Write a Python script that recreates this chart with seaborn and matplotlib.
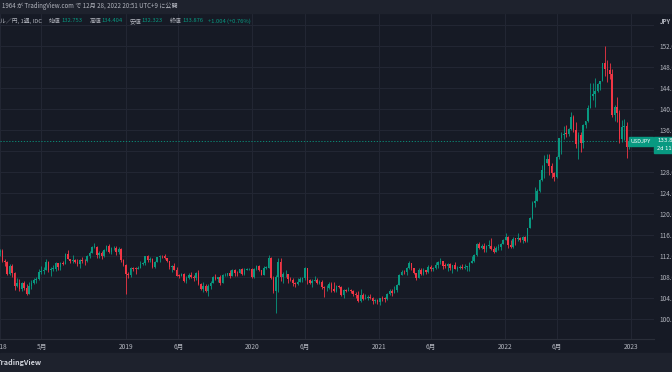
import pandas as pd
import numpy as np
import matplotlib
matplotlib.use("Agg")
import matplotlib.pyplot as plt
import matplotlib.dates as mdates
from matplotlib.patches import Rectangle
import seaborn as sns

# USD/JPY weekly candles (week start dates from 2017-12-25)
first_open = 113.30
last_open = 132.753

closes = [
    112.69,
    # 2018
    113.04, 111.05, 110.78, 108.58, 110.16, 108.79, 106.30, 106.89, 105.74, 106.82,
    105.98, 104.73, 106.28, 106.94, 107.35, 107.63, 109.04, 109.12, 109.38, 110.78,
    109.42, 109.53, 109.54, 110.65, 109.97, 110.75, 110.46, 112.37, 111.41, 111.05,
    111.25, 110.87, 110.49, 111.24, 111.04, 110.98, 112.04, 112.59, 113.70, 113.73,
    112.21, 112.55, 111.91, 113.20, 113.83, 112.83, 113.44, 113.57, 112.67, 113.38,
    111.22, 110.28,
    # 2019
    108.50, 108.47, 109.77, 109.55, 109.50, 109.73, 110.47, 110.69, 111.93, 111.17,
    111.47, 109.93, 110.86, 111.72, 112.02, 111.91, 111.60, 111.10, 109.95, 110.08,
    109.28, 108.26, 108.19, 108.54, 107.31, 107.85, 108.47, 107.91, 107.72, 108.68,
    106.58, 105.68, 106.36, 105.38, 106.26, 106.91, 108.09, 107.56, 107.92, 106.93,
    108.29, 108.45, 108.67, 108.20, 109.26, 108.77, 108.67, 109.49, 108.58, 109.38,
    109.43, 109.46,
    # 2020
    108.09, 109.49, 110.15, 109.28, 108.35, 109.76, 109.77, 111.60, 107.89, 105.38,
    107.91, 110.82, 107.93, 108.48, 108.49, 107.54, 107.48, 106.91, 106.65, 107.12,
    107.63, 107.77, 109.62, 107.37, 106.85, 107.25, 107.51, 106.93, 106.98, 106.13,
    105.83, 105.92, 106.60, 105.80, 105.37, 106.24, 106.15, 104.56, 105.58, 105.31,
    105.60, 105.40, 104.72, 104.66, 103.36, 104.62, 103.85, 104.08, 104.18, 104.03,
    103.34, 103.60,
    # 2021
    103.24, 103.94, 103.87, 103.79, 104.68, 105.38, 104.94, 105.45, 106.56, 108.31,
    109.02, 108.88, 109.66, 110.68, 109.67, 108.77, 107.88, 109.30, 108.59, 109.37,
    108.96, 109.84, 109.49, 109.67, 110.21, 110.77, 111.05, 110.14, 110.07, 110.55,
    109.70, 110.24, 109.60, 109.78, 109.84, 109.71, 109.93, 109.96, 110.73, 111.05,
    112.24, 114.22, 113.50, 113.95, 113.40, 113.87, 114.00, 113.38, 112.80, 113.44,
    113.70, 114.38,
    # 2022
    115.09, 115.56, 114.19, 113.67, 115.26, 115.22, 115.42, 114.99, 115.56, 114.80,
    117.29, 119.17, 122.03, 122.50, 124.35, 126.41, 128.46, 129.79, 130.56, 129.19,
    127.87, 127.11, 130.86, 134.40, 135.00, 135.22, 135.20, 136.11, 138.55, 136.04,
    133.26, 135.00, 133.47, 136.88, 137.67, 140.20, 142.55, 142.91, 143.37, 144.73,
    145.29, 148.69, 147.64, 147.47, 146.61, 138.78, 140.37, 139.18, 134.32, 136.59,
    136.67, 132.84, 133.876,
]

highs = [
    113.38,
    # 2018
    113.38, 113.40, 111.48, 110.98, 110.48, 110.48, 108.89, 107.90, 107.67, 107.05,
    107.29, 106.62, 107.00, 107.49, 107.78, 107.91, 109.57, 110.05, 109.99, 111.40,
    111.08, 109.82, 110.27, 110.91, 110.75, 110.90, 111.14, 112.63, 113.18, 111.47,
    112.15, 111.50, 111.44, 111.48, 111.83, 111.48, 112.16, 112.88, 113.86, 114.55,
    113.98, 112.88, 112.90, 113.39, 114.08, 114.20, 113.71, 113.95, 113.83, 113.71,
    113.58, 111.41,
    # 2019
    110.50, 108.99, 109.89, 109.99, 109.93, 110.17, 111.13, 110.95, 112.08, 112.14,
    111.90, 111.69, 111.03, 111.83, 112.13, 112.17, 112.40, 111.70, 111.08, 110.32,
    110.68, 109.92, 108.50, 108.80, 108.80, 108.16, 108.69, 108.99, 108.31, 108.94,
    109.32, 106.82, 106.97, 106.73, 106.69, 107.23, 108.26, 108.48, 108.07, 108.47,
    108.63, 108.74, 108.85, 109.29, 109.49, 109.48, 109.22, 109.61, 109.72, 109.70,
    109.69, 109.67,
    # 2020
    109.72, 109.69, 110.29, 110.20, 109.33, 110.02, 110.14, 112.22, 111.72, 108.18,
    108.40, 111.69, 111.71, 108.93, 109.39, 108.09, 107.99, 107.78, 107.03, 107.76,
    107.98, 108.08, 109.85, 109.70, 107.63, 107.63, 108.16, 107.79, 107.44, 107.41,
    106.20, 106.45, 107.05, 106.98, 107.05, 106.55, 106.50, 106.22, 105.80, 105.80,
    106.11, 105.75, 105.53, 105.05, 105.35, 105.65, 104.88, 104.75, 104.50, 104.75,
    104.18, 103.90,
    # 2021
    103.80, 104.09, 104.40, 104.10, 104.94, 105.77, 105.67, 106.22, 106.69, 108.64,
    109.24, 109.36, 109.85, 110.97, 110.52, 109.78, 108.83, 109.70, 109.69, 109.79,
    109.32, 110.20, 110.33, 109.85, 110.82, 111.12, 111.66, 111.13, 110.70, 110.59,
    110.59, 110.37, 110.80, 110.07, 110.26, 110.42, 110.45, 110.06, 110.80, 112.08,
    112.40, 114.46, 114.70, 114.30, 114.44, 114.13, 114.97, 115.52, 113.89, 113.95,
    114.25, 114.52,
    # 2022
    115.20, 116.35, 115.87, 115.06, 115.69, 115.51, 116.34, 115.69, 115.76, 115.80,
    117.35, 119.41, 122.44, 125.09, 124.68, 126.68, 129.40, 131.25, 131.35, 131.35,
    129.80, 128.08, 130.98, 134.56, 135.59, 136.71, 137.00, 136.38, 139.39, 138.88,
    137.46, 135.58, 135.58, 137.23, 137.70, 140.80, 144.99, 144.96, 145.90, 144.93,
    145.42, 148.86, 151.94, 149.28, 148.82, 147.57, 140.80, 142.25, 139.89, 137.86,
    138.18, 137.47, 134.404,
]

lows = [
    112.47,
    # 2018
    112.06, 110.92, 110.19, 108.29, 108.40, 108.05, 105.55, 106.08, 105.24, 105.35,
    105.61, 104.63, 104.72, 105.66, 106.63, 106.92, 107.49, 108.64, 108.62, 109.33,
    108.95, 108.12, 109.17, 109.19, 109.37, 109.37, 110.27, 110.39, 111.38, 110.58,
    110.76, 110.72, 110.11, 109.77, 110.68, 110.38, 110.77, 111.66, 112.48, 113.58,
    111.62, 111.62, 111.38, 111.77, 112.88, 112.52, 112.35, 113.12, 112.23, 112.40,
    110.93, 110.19,
    # 2019
    104.80, 107.75, 108.06, 109.13, 108.49, 109.55, 109.75, 110.36, 110.35, 110.78,
    110.95, 109.75, 109.70, 110.83, 110.84, 111.65, 111.38, 110.86, 109.47, 109.02,
    109.24, 108.27, 107.81, 108.12, 107.04, 106.78, 107.53, 107.80, 107.21, 107.51,
    106.50, 105.50, 105.05, 105.05, 104.45, 105.74, 106.79, 107.45, 107.13, 106.48,
    106.97, 108.28, 108.25, 107.89, 108.16, 108.25, 108.24, 108.67, 108.42, 108.43,
    109.24, 109.25,
    # 2020
    107.88, 107.77, 109.42, 109.18, 108.31, 108.36, 109.55, 109.71, 107.53, 105.01,
    101.18, 105.16, 107.25, 106.93, 107.98, 106.94, 107.30, 106.36, 106.06, 106.42,
    106.96, 107.10, 107.50, 106.58, 106.59, 106.07, 107.24, 106.63, 106.64, 105.68,
    104.19, 105.30, 105.80, 105.10, 105.20, 105.21, 105.87, 104.29, 104.00, 105.05,
    105.30, 104.95, 104.34, 104.03, 103.18, 103.19, 103.65, 103.89, 103.67, 103.80,
    102.87, 103.02,
    # 2021
    102.95, 102.59, 103.52, 103.33, 103.55, 104.61, 104.40, 104.92, 105.20, 106.48,
    108.34, 108.61, 108.41, 109.61, 109.41, 108.61, 107.48, 107.80, 108.34, 108.34,
    108.56, 108.74, 109.19, 109.19, 109.53, 109.71, 110.42, 109.53, 109.72, 109.07,
    109.36, 108.72, 109.43, 109.11, 109.46, 109.59, 109.57, 109.11, 109.11, 110.70,
    110.82, 112.07, 113.41, 113.26, 112.72, 112.73, 113.58, 113.06, 112.54, 113.14,
    113.14, 113.13,
    # 2022
    114.45, 115.00, 113.48, 113.47, 113.47, 114.15, 114.87, 114.59, 114.41, 114.66,
    114.64, 117.25, 119.13, 121.27, 122.39, 124.11, 126.27, 126.95, 129.77, 127.52,
    126.95, 126.37, 126.85, 130.40, 131.50, 134.27, 134.74, 134.77, 135.99, 135.57,
    132.50, 130.41, 131.73, 132.56, 136.36, 137.50, 140.27, 141.66, 140.35, 143.29,
    143.53, 145.26, 146.23, 145.10, 145.68, 138.47, 137.67, 137.50, 133.62, 133.63,
    134.06, 130.58, 132.323,
]

x_ticks = ["2018-01-01", "2018-05-01", "2019-01-01", "2019-06-01", "2020-01-01",
           "2020-06-01", "2021-01-01", "2021-06-01", "2022-01-01", "2022-06-01",
           "2023-01-01"]
x_labels = ["2018", "5月", "2019", "6月", "2020", "6月", "2021", "6月", "2022", "6月", "2023"]
y_ticks = list(range(100, 157, 4))
hidden_y = [132, 156]  # covered by the price tag / the JPY label

UP = "#089981"
DOWN = "#f23645"
BG = "#161a25"
PANEL = "#1e222d"
GRID = "#232734"
TEXT = "#b2b5be"

dates = pd.date_range("2017-12-25", periods=len(closes), freq="7D")
opens = [first_open] + closes[:-1]
opens[-1] = last_open
df = pd.DataFrame({"date": dates, "open": opens, "high": highs, "low": lows, "close": closes})
df["up"] = df["close"] >= df["open"]

sns.set_theme(style="dark", rc={"axes.facecolor": BG, "figure.facecolor": BG,
                                "grid.color": GRID, "axes.edgecolor": GRID})
plt.rcParams["font.family"] = ["Noto Sans CJK JP", "DejaVu Sans"]

W, H = 672, 372
fig = plt.figure(figsize=(W / 100, H / 100), dpi=100)


def fx(px):
    return px / W


def fy(py):
    return 1 - py / H


# header and footer panels
fig.patches.append(Rectangle((0, fy(13)), 1, 13 / H, transform=fig.transFigure,
                             color=PANEL, zorder=0))
fig.patches.append(Rectangle((0, 0), 1, 19 / H, transform=fig.transFigure,
                             color=PANEL, zorder=0))

ax = fig.add_axes([0, fy(339), fx(654), (339 - 13) / H])
x = mdates.date2num(df["date"])
colors = np.where(df["up"], UP, DOWN)
top = df[["open", "close"]].max(axis=1)
bot = df[["open", "close"]].min(axis=1)
ax.vlines(x, np.minimum(df["low"], bot), np.maximum(df["high"], top), colors=colors, lw=0.6, zorder=3)
ax.bar(x, np.maximum(top - bot, 0.15), bottom=bot, width=4.6, color=colors, linewidth=0, zorder=4)

ax.axhline(closes[-1], color=UP, lw=0.6, ls=(0, (1.5, 2)), zorder=2)

ax.set_xlim(mdates.date2num(pd.Timestamp("2018-01-01")), mdates.date2num(pd.Timestamp("2023-03-08")))
ax.set_ylim(96.19, 158.29)
ax.set_xticks(mdates.date2num(pd.to_datetime(x_ticks)))
ax.set_xticklabels(x_labels)
ax.set_yticks(y_ticks)
ax.set_yticklabels(["" if v in hidden_y else f"{v:.3f}" for v in y_ticks])
ax.yaxis.tick_right()
ax.tick_params(axis="y", length=0, pad=3.6, labelsize=4.6, labelcolor=TEXT)
ax.tick_params(axis="x", length=0, pad=3.0, labelsize=4.8, labelcolor=TEXT)
ax.grid(True, color=GRID, lw=0.7)
for s in ["top", "right", "left"]:
    ax.spines[s].set_visible(False)
ax.spines["bottom"].set_color("#2a2e39")
ax.spines["bottom"].set_linewidth(0.8)
ax.set_xlabel("")
ax.set_ylabel("")

# header texts
fig.text(fx(2), fy(6.5), "1964 が TradingView.com で 12月 28, 2022 20:51 UTC+9 に公開",
         color=TEXT, fontsize=4.4, va="center", ha="left")

# symbol line: labels and values placed one after another
parts = [("ル／円, 1週, IDC", TEXT, 7), ("始値", TEXT, 0.5), ("132.753", UP, 7),
         ("高値", TEXT, 0.5), ("134.404", UP, 7), ("安値", TEXT, 0.5), ("132.323", UP, 7),
         ("終値", TEXT, 0.5), ("133.876", UP, 5), ("+1.004 (+0.76%)", UP, 0)]
renderer = fig.canvas.get_renderer()
cur = 0.0
for s, c, gap in parts:
    t = fig.text(fx(cur), fy(21), s, color=c, fontsize=4.2, va="center", ha="left")
    cur += t.get_window_extent(renderer).width + gap
fig.text(fx(660), fy(21), "JPY", color=TEXT, fontsize=4.4, va="center", ha="left", weight="bold")

# price tags
fig.patches.append(Rectangle((fx(629), fy(146)), 24 / W, 9 / H, transform=fig.transFigure,
                             color=UP, zorder=5))
fig.text(fx(641), fy(141.5), "USDJPY", color="white", fontsize=4.0, va="center", ha="center", zorder=6)
fig.patches.append(Rectangle((fx(654), fy(153)), 20 / W, 16 / H, transform=fig.transFigure,
                             color=UP, zorder=5))
fig.text(fx(657), fy(141), f"{closes[-1]:.3f}", color="white", fontsize=3.9, va="center", ha="left",
         zorder=6, family="DejaVu Sans")
fig.text(fx(657), fy(148.8), "2d 11h", color="white", fontsize=3.7, va="center", ha="left",
         zorder=6, family="DejaVu Sans")

# footer
fig.text(fx(-3), fy(363), "TradingView", color="#d1d4dc", fontsize=5.2, va="center", ha="left", weight="bold")

fig.savefig("out.png", dpi=100, facecolor=BG)
